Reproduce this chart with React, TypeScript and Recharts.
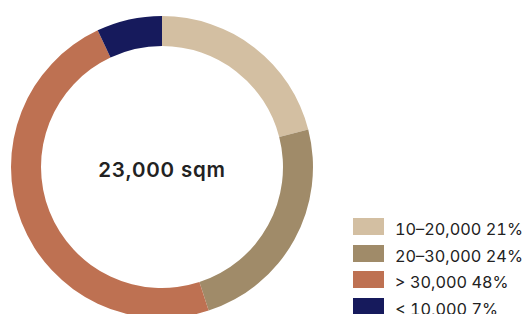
import { Cell, Pie, PieChart } from "recharts";

const categories = ["10–20,000", "20–30,000", "> 30,000", "< 10,000"];
const shares = [21, 24, 48, 7];
const totalLabel = "23,000 sqm";
const colors = ["#D3BFA2", "#A08B69", "#BE7152", "#161A5C"];

const data = categories.map((name, i) => ({ name, value: shares[i] }));
const font = "Inter, 'Liberation Sans', sans-serif";

function SizeLegend() {
  return (
    <div style={{ position: "absolute", left: 353, top: 218, width: 174 }}>
      {data.map((entry, i) => (
        <div
          key={entry.name}
          style={{ display: "flex", alignItems: "flex-start", height: 17, marginBottom: 9.7 }}
        >
          <span style={{ width: 31, height: 17, background: colors[i], flex: "none" }} />
          <span
            style={{
              marginLeft: 11,
              position: "relative",
              top: 3,
              fontSize: 16.3,
              lineHeight: "17px",
              letterSpacing: 0,
              fontFeatureSettings: "'tnum'",
              color: "#222",
              fontFamily: font,
              whiteSpace: "nowrap",
            }}
          >
            {entry.name} {entry.value}%
          </span>
        </div>
      ))}
    </div>
  );
}

export default function App() {
  return (
    <div
      style={{
        position: "absolute",
        left: 0,
        top: 0,
        width: 527,
        height: 314,
        background: "#fff",
        overflow: "hidden",
      }}
    >
      <PieChart width={527} height={314} margin={{ top: 0, right: 0, bottom: 0, left: 0 }}>
        <Pie
          data={data}
          dataKey="value"
          nameKey="name"
          cx={162}
          cy={167}
          innerRadius={121}
          outerRadius={151}
          startAngle={90}
          endAngle={-270}
          stroke="none"
          isAnimationActive={false}
        >
          {data.map((entry, i) => (
            <Cell key={entry.name} fill={colors[i]} />
          ))}
        </Pie>
      </PieChart>
      <div
        style={{
          position: "absolute",
          left: 0,
          width: 324,
          top: 160,
          textAlign: "center",
          fontSize: 20.5,
          lineHeight: "20px",
          fontWeight: 600,
          letterSpacing: 0.8,
          color: "#222",
          fontFamily: font,
          whiteSpace: "nowrap",
        }}
      >
        {totalLabel}
      </div>
      <SizeLegend />
    </div>
  );
}
